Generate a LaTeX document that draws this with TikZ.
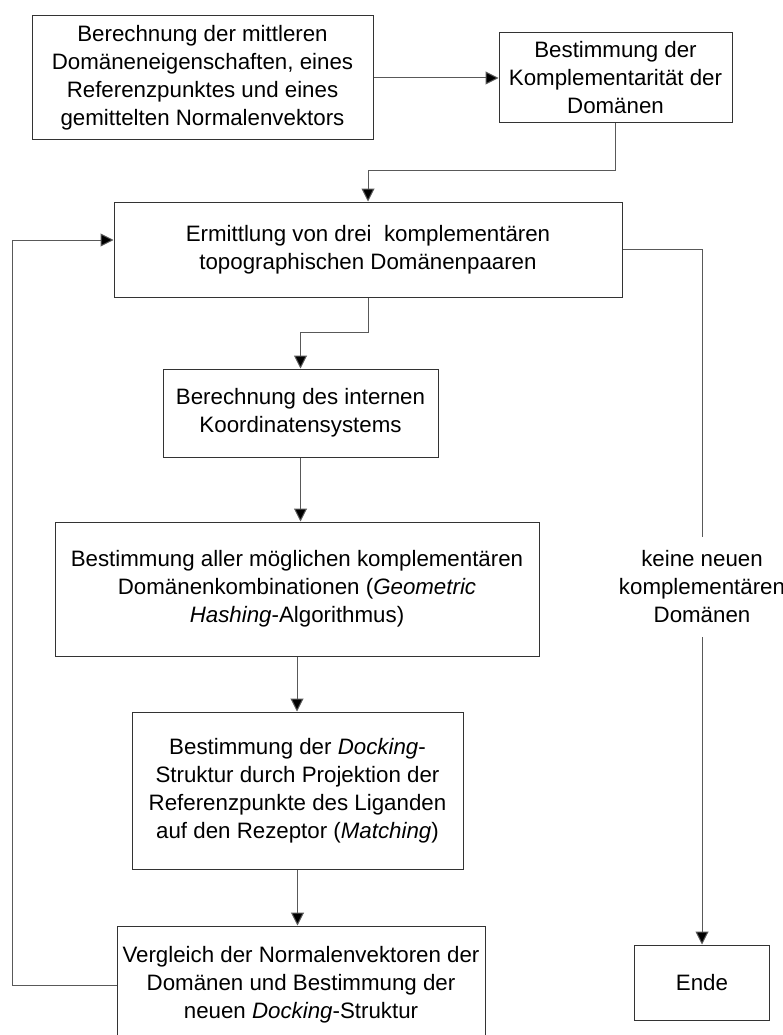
\documentclass[tikz,border=0pt]{standalone}
\usepackage{fontspec}
\setmainfont{Liberation Sans}
\usetikzlibrary{arrows.meta}

\begin{document}
\begin{tikzpicture}[x=1pt, y=-1pt,
  box/.style={draw=black!80, line width=1pt, align=center, inner sep=0pt,
    font=\fontsize{22.3}{28}\selectfont},
  lbl/.style={align=center, inner sep=0pt, font=\fontsize{22.3}{28}\selectfont},
  arr/.style={draw=black!65, line width=1pt, -{Triangle[length=13pt, width=13pt, fill=black]}},
  con/.style={draw=black!65, line width=1pt}]
\useasboundingbox (0,0) rectangle (783,1035);

% process steps
\node[box, minimum width=341pt, minimum height=124pt] (b1) at (202.5,78)
  {Berechnung der mittleren\\Domäneneigenschaften, eines\\Referenzpunktes und eines\\gemittelten Normalenvektors};
\node[box, minimum width=233pt, minimum height=90pt] (b2) at (615.5,78)
  {Bestimmung der\\Komplementarität der\\Domänen};
\node[box, minimum width=508pt, minimum height=95pt] (b3) at (368,249.5)
  {Ermittlung von drei\ \ komplementären\\topographischen Domänenpaaren};
\node[box, minimum width=275pt, minimum height=88pt] (b4) at (300.5,413)
  {Berechnung des internen\\Koordinatensystems};
\node[box, minimum width=484pt, minimum height=134pt] (b5) at (297,589)
  {Bestimmung aller möglichen komplementären\\Domänenkombinationen (\textit{Geometric}\\\textit{Hashing}-Algorithmus)};
\node[box, minimum width=331pt, minimum height=157pt] (b6) at (297.5,790.5)
  {Bestimmung der \textit{Docking}-\\Struktur durch Projektion der\\Referenzpunkte des Liganden\\auf den Rezeptor (\textit{Matching})};
\node[box, minimum width=368pt, minimum height=118pt] (b7) at (301,985)
  {Vergleich der Normalenvektoren der\\Domänen und Bestimmung der\\neuen \textit{Docking}-Struktur};
\node[box, minimum width=135pt, minimum height=75pt] (ende) at (702,982.5) {Ende};

% exit condition
\node[lbl, minimum height=100pt] (cond) at (702,587)
  {keine neuen\\komplementären\\Domänen};

\coordinate (loopx) at (12,0);

% connectors
\draw[arr] (b1.east) -- (b2.west);
\draw[arr] (b2.south) -- ++(0,47) -| (b3.north);
\draw[arr] (b3.south) -- ++(0,35) -| (b4.north);
\draw[arr] (b4.south) -- (b4.south |- b5.north);
\draw[arr] (b5.south) -- (b5.south |- b6.north);
\draw[arr] (b6.south) -- (b6.south |- b7.north);
\draw[arr] (b7.west) -- (loopx |- b7.west) |- ([yshift=9.5pt]b3.west);
\draw[con] (b3.east) -| (cond.north);
\draw[arr] (cond.south) -- (ende.north);
\end{tikzpicture}
\end{document}
